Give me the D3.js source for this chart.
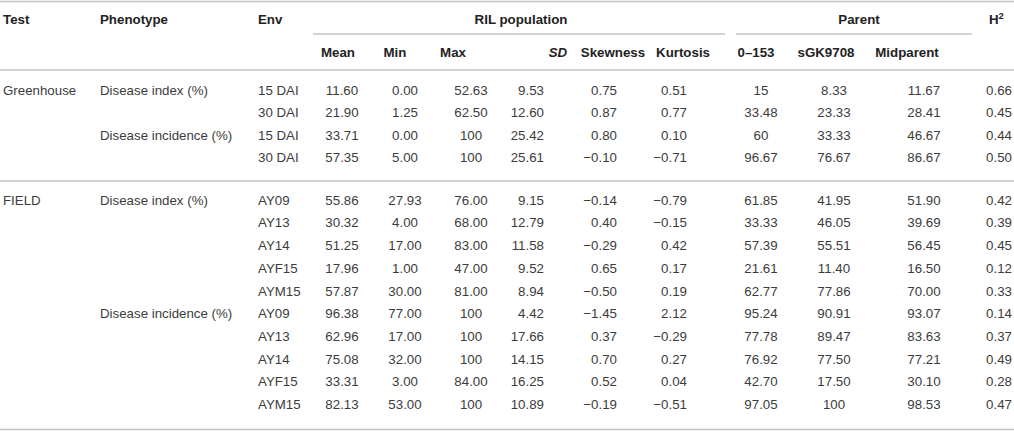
<!DOCTYPE html>
<html lang="en">
<head>
<meta charset="UTF-8">
<title>RIL population table</title>
<style>
  body { margin: 0; background: #fff; }
  svg { display: block; font-family: "Liberation Sans", Arial, Helvetica, sans-serif; }
</style>
</head>
<body>
<script src="https://cdn.jsdelivr.net/npm/d3@7"></script>
<script>
// table values, one array per column
const tests = ["Greenhouse", "", "", "", "FIELD", "", "", "", "", "", "", "", "", ""];
const phenotypes = ["Disease index (%)", "", "Disease incidence (%)", "",
  "Disease index (%)", "", "", "", "", "Disease incidence (%)", "", "", "", ""];
const envs = ["15 DAI", "30 DAI", "15 DAI", "30 DAI",
  "AY09", "AY13", "AY14", "AYF15", "AYM15", "AY09", "AY13", "AY14", "AYF15", "AYM15"];
const means = ["11.60", "21.90", "33.71", "57.35", "55.86", "30.32", "51.25", "17.96", "57.87",
  "96.38", "62.96", "75.08", "33.31", "82.13"];
const mins = ["0.00", "1.25", "0.00", "5.00", "27.93", "4.00", "17.00", "1.00", "30.00",
  "77.00", "17.00", "32.00", "3.00", "53.00"];
const maxs = ["52.63", "62.50", "100", "100", "76.00", "68.00", "83.00", "47.00", "81.00",
  "100", "100", "100", "84.00", "100"];
const sds = ["9.53", "12.60", "25.42", "25.61", "9.15", "12.79", "11.58", "9.52", "8.94",
  "4.42", "17.66", "14.15", "16.25", "10.89"];
const skews = ["0.75", "0.87", "0.80", "−0.10", "−0.14", "0.40", "−0.29", "0.65", "−0.50",
  "−1.45", "0.37", "0.70", "0.52", "−0.19"];
const kurts = ["0.51", "0.77", "0.10", "−0.71", "−0.79", "−0.15", "0.42", "0.17", "0.19",
  "2.12", "−0.29", "0.27", "0.04", "−0.51"];
const p0153 = ["15", "33.48", "60", "96.67", "61.85", "33.33", "57.39", "21.61", "62.77",
  "95.24", "77.78", "76.92", "42.70", "97.05"];
const sgk9708 = ["8.33", "23.33", "33.33", "76.67", "41.95", "46.05", "55.51", "11.40", "77.86",
  "90.91", "89.47", "77.50", "17.50", "100"];
const midparents = ["11.67", "28.41", "46.67", "86.67", "51.90", "39.69", "56.45", "16.50", "70.00",
  "93.07", "83.63", "77.21", "30.10", "98.53"];
const h2s = ["0.66", "0.45", "0.44", "0.50", "0.42", "0.39", "0.45", "0.12", "0.33",
  "0.14", "0.37", "0.49", "0.28", "0.47"];

const groupHeaders = ["RIL population", "Parent"];
const subHeaders = ["Mean", "Min", "Max", "SD", "Skewness", "Kurtosis", "0–153", "sGK9708", "Midparent"];

const w = 1014;
const h = 432;
const svg = d3.select('body')
  .append('svg')
  .attr('width', w)
  .attr('height', h);

// column layout: data x/anchor and header x
const columns = [
  { values: tests, x: 3, anchor: 'start' },
  { values: phenotypes, x: 100, anchor: 'start' },
  { values: envs, x: 258, anchor: 'start' },
  { values: means, x: 342, anchor: 'middle', hx: 338 },
  { values: mins, x: 405, anchor: 'middle', hx: 395 },
  { values: maxs, x: 471, anchor: 'middle', hx: 453 },
  { values: sds, x: 544, anchor: 'end', hx: 558, italic: true },
  { values: skews, x: 617, anchor: 'end', hx: 613 },
  { values: kurts, x: 687, anchor: 'end', hx: 683 },
  { values: p0153, x: 761, anchor: 'middle', hx: 756 },
  { values: sgk9708, x: 834, anchor: 'middle', hx: 826 },
  { values: midparents, x: 924, anchor: 'middle', hx: 907 },
  { values: h2s, x: 1012, anchor: 'end' }
];

// row positions: two blocks with a gap for the separator
const rowIdx = d3.range(envs.length);
const y = d3.scaleLinear().domain([0, 3, 4, 13]).range([90, 157.5, 200, 404.5]);

// horizontal rules
const rules = [
  { x1: 0, x2: w, y: 1.5 },
  { x1: 313, x2: 725, y: 34 },
  { x1: 736, x2: 972, y: 34 },
  { x1: 0, x2: w, y: 70 },
  { x1: 0, x2: w, y: 181 },
  { x1: 0, x2: w, y: 429.5 }
];
svg.selectAll('line.rule')
  .data(rules)
  .enter()
  .append('line')
  .attr('class', 'rule')
  .attr('x1', d => d.x1)
  .attr('x2', d => d.x2)
  .attr('y1', d => d.y)
  .attr('y2', d => d.y)
  .attr('stroke', '#c4c4c4')
  .attr('stroke-width', 1.5);

// header row 1
const head1 = [
  { t: 'Test', x: 3, a: 'start' },
  { t: 'Phenotype', x: 100, a: 'start' },
  { t: 'Env', x: 258, a: 'start' },
  { t: groupHeaders[0], x: 521, a: 'middle' },
  { t: groupHeaders[1], x: 859, a: 'middle' }
];
svg.selectAll('text.head1')
  .data(head1)
  .enter()
  .append('text')
  .attr('class', 'head1')
  .attr('x', d => d.x)
  .attr('y', 19)
  .attr('dy', '0.35em')
  .attr('text-anchor', d => d.a)
  .attr('font-size', '13.3px')
  .attr('font-weight', 'bold')
  .attr('fill', '#222')
  .text(d => d.t);

// H² header
const h2Text = svg.append('text')
  .attr('x', 989)
  .attr('y', 19)
  .attr('dy', '0.35em')
  .attr('font-size', '13.3px')
  .attr('font-weight', 'bold')
  .attr('fill', '#222');
h2Text.append('tspan').text('H');
h2Text.append('tspan')
  .attr('dy', '-5')
  .attr('font-size', '9.5px')
  .text('2');

// header row 2
svg.selectAll('text.head2')
  .data(columns.slice(3, 12))
  .enter()
  .append('text')
  .attr('class', 'head2')
  .attr('x', d => d.hx)
  .attr('y', 52)
  .attr('dy', '0.35em')
  .attr('text-anchor', 'middle')
  .attr('font-size', '13.3px')
  .attr('font-weight', 'bold')
  .attr('font-style', d => d.italic ? 'italic' : 'normal')
  .attr('fill', '#222')
  .text((d, i) => subHeaders[i]);

// body cells
columns.forEach(col => {
  svg.append('g')
    .selectAll('text')
    .data(rowIdx)
    .enter()
    .append('text')
    .attr('x', col.x)
    .attr('y', i => y(i))
    .attr('dy', '0.35em')
    .attr('text-anchor', col.anchor)
    .attr('font-size', '13.3px')
    .attr('fill', '#3c3c3c')
    .text(i => col.values[i]);
});
</script>
</body>
</html>
